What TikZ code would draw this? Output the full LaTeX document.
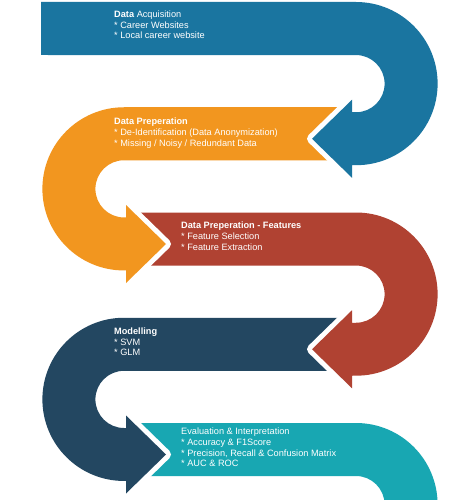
\documentclass[tikz,border=0pt]{standalone}
\usepackage{fontspec}
\newfontfamily\labelfont{Liberation Sans}
\usepackage{tikz}
\definecolor{acqblue}{HTML}{1A75A0}
\definecolor{prepor}{HTML}{F2961F}
\definecolor{featred}{HTML}{B04232}
\definecolor{modnavy}{HTML}{234761}
\definecolor{evalteal}{HTML}{18A7B2}

\begin{document}
\begin{tikzpicture}[
  x=1pt,y=1pt,
  every node/.style={font=\labelfont\fontsize{9.2}{10.6}\selectfont,text=white,
    align=left,anchor=base west,inner sep=0pt},
  band/.style={preaction={draw=white,fill=white,line width=10pt,line join=round}}
]
\clip (0,0) rectangle (474,-500);
% drawn from the last step up, so each arrow head sits on the next band
\fill[band,evalteal] (126,-423) -- (356,-423) arc[start angle=90,end angle=-90,radius=81.6]
  -- (356,-533.2) arc[start angle=-90,end angle=90,radius=28.6] -- (126,-476) -- cycle;
\fill[band,modnavy] (352,-317.75) -- (124,-317.75) arc[start angle=90,end angle=270,radius=81.6]
  -- (126,-481) -- (126,-493.5) -- (166,-454.5) -- (126,-415.5) -- (126,-428) -- (124,-428)
  arc[start angle=270,end angle=90,radius=28.6] -- (352,-370.75) -- cycle;
\fill[band,featred] (126,-212.5) -- (356,-212.5) arc[start angle=90,end angle=-90,radius=81.6]
  -- (352,-375.75) -- (352,-388.25) -- (312,-349.25) -- (352,-310.25) -- (352,-322.75) -- (356,-322.75)
  arc[start angle=-90,end angle=90,radius=28.6] -- (126,-265.5) -- cycle;
\fill[band,prepor] (352,-107.25) -- (124,-107.25) arc[start angle=90,end angle=270,radius=81.6]
  -- (126,-270.45) -- (126,-283) -- (166,-244) -- (126,-205) -- (126,-217.45) -- (124,-217.45)
  arc[start angle=270,end angle=90,radius=28.6] -- (352,-160.25) -- cycle;
\fill[band,acqblue] (41,-2) -- (356,-2) arc[start angle=90,end angle=-90,radius=81.6]
  -- (352,-165.25) -- (352,-177.75) -- (312,-138.75) -- (352,-99.75) -- (352,-112.25) -- (356,-112.25)
  arc[start angle=-90,end angle=90,radius=28.6] -- (41,-55) -- cycle;
% step texts (placed by the baseline of their last line)
\node (acq) at (114,-39) {\textbf{Data} Acquisition\\* Career Websites\\* Local career website};
\node (prep) at (114,-146) {\textbf{Data Preperation}\\* De-Identification (Data Anonymization)\\* Missing / Noisy / Redundant Data};
\node (feat) at (181,-250) {\textbf{Data Preperation - Features}\\* Feature Selection\\* Feature Extraction};
\node (model) at (114,-355.6) {\textbf{Modelling}\\* SVM\\* GLM};
\node (eval) at (181,-466.6) {Evaluation \& Interpretation\\* Accuracy \& F1Score\\* Precision, Recall \& Confusion Matrix\\* AUC \& ROC};
\end{tikzpicture}
\end{document}
